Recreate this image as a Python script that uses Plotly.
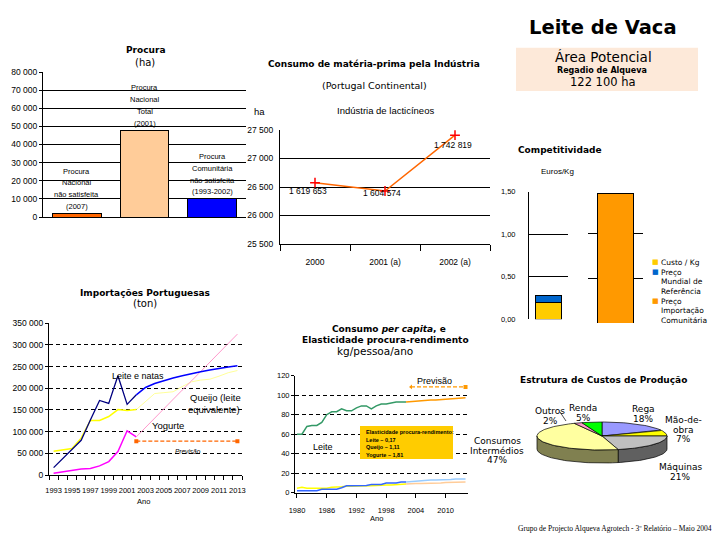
import math
import plotly.graph_objects as go

# ---------------- data ----------------
procura_categorias = ["Nacional não satisfeita", "Nacional Total", "Comunitária não satisfeita"]
procura_rotulos = ["Procura<br>Nacional<br>não satisfeita<br>(2007)",
                   "Procura<br>Nacional<br>Total<br>(2001)",
                   "Procura<br>Comunitária<br>não satisfeita<br>(1993-2002)"]
procura_ha = [2000, 48000, 10000]

industria_anos = ["2000", "2001 (a)", "2002 (a)"]
industria_ha = [26575, 26430, 27410]
industria_rotulos = ["1 619 653", "1 604 574", "1 742 819"]

compet_custo_kg = [0.20]
compet_preco_mundial = [0.08]
compet_preco_import = [1.44]

imp_anos_hist = list(range(1993, 2003))
imp_anos_prev = list(range(2002, 2014))
imp_leite_hist = [17000, 38000, 58000, 80000, 127000, 172000, 165000, 229000, 163000, 185000]
imp_leite_prev = [185000, 202000, 211000, 218000, 224000, 229000, 234000, 238000, 242000, 246000, 249000, 252000]
imp_queijo_hist = [55000, 58000, 61000, 85000, 126000, 126000, 135000, 151000, 149000, 151000]
imp_queijo_prev = [151000, 169000, 188000, 190000, 192000, 204000, 215000, 219000, 221000, 228000, 236000, 241000]
imp_iogurte_hist = [4000, 7000, 11000, 14000, 15000, 21000, 31000, 54000, 102000, 88000]
imp_iogurte_prev = [88000, 110000, 131000, 153000, 174000, 196000, 217000, 239000, 260000, 282000, 303000, 325000]
imp_previsao_anos = [2002, 2013]
imp_previsao = [78000, 78000]
imp_tick_anos = list(range(1993, 2014, 2))

pc_anos_hist = list(range(1980, 2003))
pc_anos_prev = list(range(2002, 2015))
pc_leite_hist = [60, 60, 68, 69, 69, 72, 80, 83, 83, 86, 84, 84, 87, 89, 89, 86, 89, 91, 91, 92, 93, 93, 93]
pc_leite_prev = [93, 93.5, 94, 94, 94.5, 95, 95, 95.5, 96, 96, 96.5, 97, 97.5]
pc_iogurte_hist = [2, 2, 2, 2, 2, 3.5, 3.5, 3.5, 3.5, 5, 7, 7, 7, 7, 7.5, 8.5, 8.5, 8.5, 10, 10, 10, 11, 11]
pc_iogurte_prev = [11, 11.5, 12, 12, 12.5, 13, 13, 13, 13.5, 13.5, 14, 14, 14]
pc_queijo_hist = [4.5, 5.5, 4.5, 4.5, 4.5, 4.5, 4.5, 5.5, 5.5, 6, 6.5, 6.5, 7, 7, 7, 7, 7.5, 8, 8, 8, 8.5, 9, 9]
pc_queijo_prev = [9, 9.5, 9.5, 9.5, 9.5, 10, 10, 10, 10.5, 10.5, 11, 11, 11]
pc_previsao_anos = [2003, 2014]
pc_previsao = [108.5, 108.5]
pc_tick_anos = [1980, 1986, 1992, 1998, 2004, 2010]
elasticidades = ["Elasticidade procura-rendimento:", "Leite – 0,17", "Queijo – 1,11", "Yogurte – 1,81"]

custos_rubricas = ["Rega", "Mão-de-<br>obra", "Máquinas", "Consumos<br>Intermédios", "Outros", "Renda"]
custos_pct = [18, 7, 21, 47, 2, 5]

# ---------------- styles ----------------
NARROW = "Liberation Sans, Arial, sans-serif"
VERD = "DejaVu Sans, Verdana, sans-serif"
SERIF = "Liberation Serif, Times New Roman, serif"
W, H = 720, 540


def dx(a, b):
    return [a / W, b / W]


def dy(top, bottom):
    return [1 - bottom / H, 1 - top / H]


fig = go.Figure()

# ---- Panel 1: Procura ----
fig.add_trace(go.Bar(x=procura_categorias, y=procura_ha, width=0.72,
                     marker=dict(color=["#ff6600", "#ffcc99", "#0000ff"], line=dict(color="black", width=1)),
                     xaxis="x", yaxis="y", showlegend=False, hoverinfo="skip"))

# ---- Panel 2: Indústria ----
fig.add_trace(go.Scatter(x=industria_anos, y=industria_ha, mode="lines+markers",
                         line=dict(color="#ff6600", width=1.5),
                         marker=dict(symbol="cross-thin", size=7, line=dict(color="red", width=1.5)),
                         xaxis="x2", yaxis="y2", showlegend=False, hoverinfo="skip"))

# ---- Panel 3: Competitividade ----
fig.add_trace(go.Bar(x=["a"], y=compet_custo_kg, width=0.67, marker=dict(color="#ffcc00", line=dict(color="black", width=1)),
                     xaxis="x3", yaxis="y3", showlegend=False, hoverinfo="skip"))
fig.add_trace(go.Bar(x=["a"], y=compet_preco_mundial, width=0.67, marker=dict(color="#0066cc", line=dict(color="black", width=1)),
                     xaxis="x3", yaxis="y3", showlegend=False, hoverinfo="skip"))
fig.add_trace(go.Bar(x=["b"], y=compet_preco_import, width=0.64, marker=dict(color="#ff9900", line=dict(color="black", width=1)),
                     xaxis="x4", yaxis="y4", showlegend=False, hoverinfo="skip"))

# ---- Panel 4: Importações ----
for xs, ys, col, w in [
    (imp_anos_hist, imp_queijo_hist, "#ffff00", 1.5),
    (imp_anos_prev, imp_queijo_prev, "#ffff99", 1),
    (imp_anos_hist, imp_iogurte_hist, "#ff00ff", 1.5),
    (imp_anos_prev, imp_iogurte_prev, "#ff99cc", 1),
    (imp_anos_hist, imp_leite_hist, "#000080", 1.3),
    (imp_anos_prev, imp_leite_prev, "#0000ff", 1.5),
]:
    fig.add_trace(go.Scatter(x=xs, y=ys, mode="lines", line=dict(color=col, width=w),
                             xaxis="x5", yaxis="y5", showlegend=False, hoverinfo="skip"))
fig.add_trace(go.Scatter(x=imp_previsao_anos, y=imp_previsao, mode="lines+markers",
                         line=dict(color="#ff6600", width=1.2, dash="4px,2px"),
                         marker=dict(symbol="square", size=4, color="#ff6600"),
                         xaxis="x5", yaxis="y5", showlegend=False, hoverinfo="skip"))

# ---- Panel 5: Consumo per capita ----
for xs, ys, col in [
    (pc_anos_hist, pc_leite_hist, "#339966"),
    (pc_anos_prev, pc_leite_prev, "#ff9900"),
    (pc_anos_hist, pc_queijo_hist, "#ffff00"),
    (pc_anos_prev, pc_queijo_prev, "#ffcc99"),
    (pc_anos_hist, pc_iogurte_hist, "#3366ff"),
    (pc_anos_prev, pc_iogurte_prev, "#99ccff"),
]:
    fig.add_trace(go.Scatter(x=xs, y=ys, mode="lines", line=dict(color=col, width=1.5),
                             xaxis="x6", yaxis="y6", showlegend=False, hoverinfo="skip"))
fig.add_trace(go.Scatter(x=pc_previsao_anos, y=pc_previsao, mode="lines+markers",
                         line=dict(color="#ff9900", width=1.2, dash="4px,2px"),
                         marker=dict(symbol=["triangle-left", "square"], size=4, color="#ff9900"),
                         xaxis="x6", yaxis="y6", showlegend=False, hoverinfo="skip"))

# ---- Panel 6: Pie (pseudo 3D) ----
top_cols = ["#9999ff", "#ffff00", "#c0c0c0", "#ffffa0", "#ff99cc", "#00ff00"]
side_cols = ["#4c4c80", "#808000", "#606060", "#808050", "#804c66", "#008000"]
A, B, DEPTH = 65, 14, 13
tot = sum(custos_pct)
angs = []
cum = 0
for v in custos_pct:
    t0 = cum / tot * 2 * math.pi
    cum += v
    angs.append((t0, cum / tot * 2 * math.pi))
for (t0, t1), col in zip(angs, side_cols):
    s0, s1 = max(t0, math.pi / 2), min(t1, 3 * math.pi / 2)
    if s1 > s0:
        ts = [s0 + (s1 - s0) * k / 40 for k in range(41)]
        xs = [A * math.sin(t) for t in ts] + [A * math.sin(t) for t in reversed(ts)]
        ys = [B * math.cos(t) for t in ts] + [B * math.cos(t) - DEPTH for t in reversed(ts)]
        fig.add_trace(go.Scatter(x=xs + xs[:1], y=ys + ys[:1], fill="toself", fillcolor=col, mode="lines",
                                 line=dict(color="black", width=0.7), xaxis="x7", yaxis="y7",
                                 showlegend=False, hoverinfo="skip"))
for (t0, t1), col in zip(angs, top_cols):
    n = max(4, int((t1 - t0) * 30))
    ts = [t0 + (t1 - t0) * k / n for k in range(n + 1)]
    xs = [0] + [A * math.sin(t) for t in ts] + [0]
    ys = [0] + [B * math.cos(t) for t in ts] + [0]
    fig.add_trace(go.Scatter(x=xs, y=ys, fill="toself", fillcolor=col, mode="lines",
                             line=dict(color="black", width=0.7), xaxis="x7", yaxis="y7",
                             showlegend=False, hoverinfo="skip"))

# ---------------- axes ----------------
grid_solid = dict(showgrid=True, gridcolor="black", gridwidth=1, zeroline=False, automargin=False)
grid_dash = dict(showgrid=True, gridcolor="black", gridwidth=1, griddash="4px,3px", zeroline=False, automargin=False)


def f(size):
    return dict(family=NARROW, size=size, color="black")


layout_axes = dict(
    xaxis=dict(domain=dx(43, 246), anchor="y", type="category", range=[-0.5, 2.5], showticklabels=False,
               showline=True, linecolor="black", showgrid=False, ticks="", automargin=False),
    yaxis=dict(domain=dy(72, 217), anchor="x", range=[0, 80000], dtick=10000, tickformat=",d",
               showline=True, linecolor="black", ticks="outside", ticklen=3, tickcolor="black",
               tickfont=f(8.5), **grid_solid),
    xaxis2=dict(domain=dx(280, 490), anchor="y2", type="category", range=[-0.5, 2.5], tickson="boundaries",
                ticks="outside", ticklen=6, tickcolor="black", showline=True, linecolor="black", showgrid=False,
                tickfont=f(8.5), ticklabelstandoff=10, automargin=False),
    yaxis2=dict(domain=dy(130, 244), anchor="x2", range=[25500, 27500], dtick=500, tickformat=",d",
                showline=True, linecolor="black", ticks="", tickfont=f(8.5), ticklabelstandoff=4, **grid_solid),
    xaxis3=dict(domain=dx(529, 568), anchor="y3", type="category", range=[-0.5, 0.5], showticklabels=False,
                showline=False, showgrid=False, ticks="", automargin=False),
    yaxis3=dict(domain=dy(191.7, 319.3), anchor="x3", range=[0, 1.5], dtick=0.5, tickformat=".2f",
                showline=True, linecolor="black", ticks="", tickfont=f(7.5),
                ticklabelstandoff=11, **grid_solid),
    xaxis4=dict(domain=dx(588, 643), anchor="y4", type="category", range=[-0.5, 0.5], showticklabels=False,
                showline=False, showgrid=False, ticks="", automargin=False),
    yaxis4=dict(domain=dy(188, 323), anchor="x4", range=[0, 1.5], dtick=0.5, showticklabels=False,
                showline=False, ticks="", **grid_solid),
    xaxis5=dict(domain=dx(49, 242), anchor="y5", range=[1992.5, 2013.5], tickvals=imp_tick_anos,
                ticks="", showline=True, linecolor="black", showgrid=False, tickfont=f(7.5), tickangle=0,
                ticklabelstandoff=8, automargin=False,
                minor=dict(ticks="outside", tick0=1992.5, dtick=1, ticklen=4, tickcolor="black", showgrid=False)),
    yaxis5=dict(domain=dy(323.3, 475), anchor="x5", range=[0, 350000], dtick=50000, tickformat=",d",
                showline=True, linecolor="black", ticks="outside", ticklen=3, tickcolor="black",
                tickfont=f(8.5), **grid_dash),
    xaxis6=dict(domain=dx(295, 468), anchor="y6", range=[1979.6, 2014.5], tickvals=pc_tick_anos,
                ticks="outside", ticklen=4, tickcolor="black", showline=True, linecolor="black", showgrid=False,
                tickfont=f(7.5), tickangle=0, ticklabelstandoff=6, automargin=False),
    yaxis6=dict(domain=dy(375.7, 492.7), anchor="x6", range=[0, 120], dtick=20,
                showline=True, linecolor="black", ticks="outside", ticklen=3, tickcolor="black",
                tickfont=f(7.5), **grid_dash),
    xaxis7=dict(domain=dx(522, 682), anchor="y7", range=[-80, 80], visible=False, automargin=False),
    yaxis7=dict(domain=dy(406, 466), anchor="x7", range=[-30, 30], visible=False, automargin=False),
)

# ---------------- texts ----------------
ann = []


def txt(x, y, s, size=10, family=VERD, color="black", xanchor="center"):
    ann.append(dict(x=x / W, y=1 - y / H, xref="paper", yref="paper", text=s, showarrow=False,
                    xanchor=xanchor, yanchor="middle", font=dict(family=family, size=size, color=color)))


# header
txt(603, 27, "<b>Leite de Vaca</b>", size=19.5)
txt(603, 57, "Área Potencial", size=13.5)
txt(602, 70, "<b>Regadio de Alqueva</b>", size=8)
txt(603, 82, "122 100 ha", size=11.5)
txt(714, 528, "Grupo de Projecto Alqueva Agrotech - 3º Relatório – Maio 2004", size=7.5, family=SERIF, xanchor="right")

# panel 1
txt(145, 50, "<b>Procura</b>", size=9)
txt(145, 62, "(ha)", size=10)
for k, (v, r) in enumerate(zip(procura_ha, procura_rotulos)):
    lines = r.split("<br>")
    for i, l in enumerate(reversed(lines)):
        ann.append(dict(x=k, y=v, xref="x", yref="y", text=l, showarrow=False, yanchor="middle",
                        yshift=7 + i * 11.7, font=f(7.5)))

# panel 2
txt(374, 64, "<b>Consumo de matéria-prima pela Indústria</b>", size=9)
txt(374, 86, "(Portugal Continental)", size=9.5)
txt(385, 111, "Indústria de lacticíneos", size=9.5, family=NARROW)
txt(259, 112, "ha", size=9.5, family=NARROW)
for k, (v, r, xs, ys) in enumerate(zip(industria_ha, industria_rotulos, [-7, -3, -2], [-8, -2, -10])):
    ann.append(dict(x=k, y=v, xref="x2", yref="y2", text=r, showarrow=False, xshift=xs, yshift=ys,
                    font=f(8.5)))

# panel 3
txt(560, 150, "<b>Competitividade</b>", size=9)
txt(557, 171, "Euros/Kg", size=8, family=NARROW)
leg = [("#ffcc00", ["Custo / Kg"], 262),
       ("#0066cc", ["Preço", "Mundial de", "Referência"], 272),
       ("#ff9900", ["Preço", "Importação", "Comunitária"], 301)]
for col, lines, y0 in leg:
    txt(655, y0, "■", size=7, color=col)
    for i, l in enumerate(lines):
        txt(659, y0 + i * 9.5, l, size=7.5, xanchor="left")

# panel 4
txt(145, 293, "<b>Importações Portuguesas</b>", size=9)
txt(145, 303, "(ton)", size=10)
txt(138, 376, "Leite e natas", size=9, family=NARROW)
txt(215, 397, "Queijo (leite", size=9.5, family=NARROW)
txt(214, 409, "equivalente)", size=9.5, family=NARROW)
txt(168, 425, "Yogurte", size=9.5, family=NARROW)
txt(188, 451, "<i>Previsão</i>", size=6.5, family=NARROW)
txt(143, 501, "Ano", size=7.5, family=NARROW)

# panel 5
txt(389, 329, "<b>Consumo <i>per capita</i>, e</b>", size=9)
txt(385, 340, "<b>Elasticidade procura-rendimento</b>", size=9)
txt(375, 351, "kg/pessoa/ano", size=10.5)
txt(323, 447, "Leite", size=9, family=NARROW)
txt(434, 381, "Previsão", size=9, family=NARROW)
txt(376, 518, "Ano", size=7.5, family=NARROW)
for i, l in enumerate(elasticidades):
    txt(364, 432 + i * 7.7, "<b>" + l + "</b>", size=5.5, family=NARROW, xanchor="left")

# panel 6
txt(603, 380, "<b>Estrutura de Custos de Produção</b>", size=9)
pie_pos = [(643, 409), (683, 420), (680, 467), (497, 441), (550, 411), (583, 408)]
for lab, v, (x0, y0) in zip(custos_rubricas, custos_pct, pie_pos):
    lines = lab.split("<br>") + [f"{v}%"]
    for i, l in enumerate(lines):
        txt(x0, y0 + i * 9.5, l, size=9)

shapes = [
    dict(type="rect", xref="paper", yref="paper", x0=516 / W, x1=698 / W, y0=1 - 91 / H, y1=1 - 47.7 / H,
         fillcolor="#fde9d9", line=dict(width=0), layer="below"),
    dict(type="rect", xref="paper", yref="paper", x0=360 / W, x1=453 / W, y0=1 - 459 / H, y1=1 - 426 / H,
         fillcolor="#ffcc00", line=dict(width=0), layer="above"),
    dict(type="line", xref="paper", yref="paper", x0=560 / W, x1=566 / W, y0=1 - 412 / H, y1=1 - 421 / H,
         line=dict(color="black", width=0.7)),
]

fig.update_layout(
    template="none",
    width=W, height=H, margin=dict(l=0, r=0, t=0, b=0, pad=0),
    paper_bgcolor="white", plot_bgcolor="white",
    separators=", ", barmode="stack", showlegend=False,
    annotations=ann, shapes=shapes,
    **layout_axes,
)

fig.write_html("out.html", config={"displayModeBar": False},
               post_script="document.body.style.margin='0';document.body.style.padding='0';")
